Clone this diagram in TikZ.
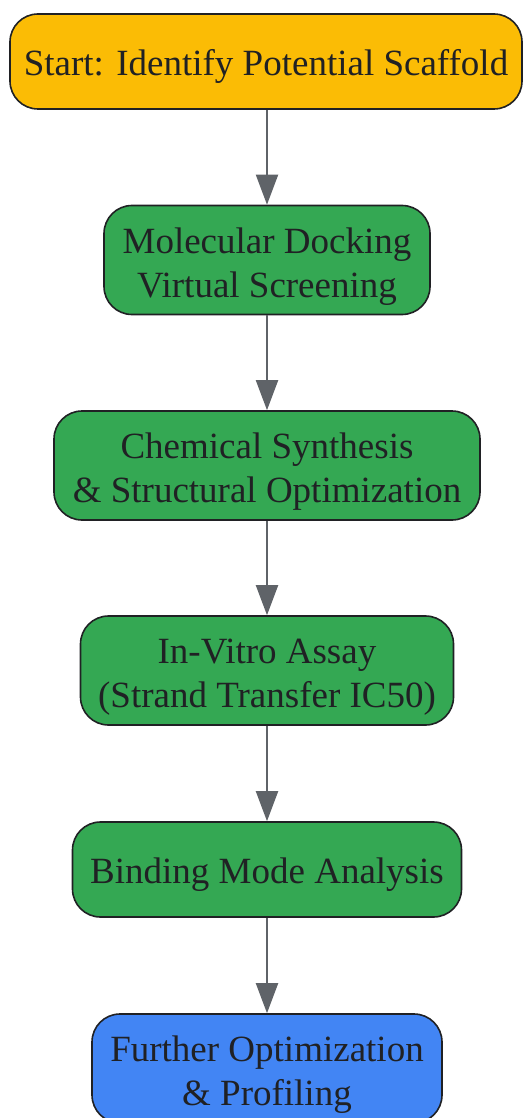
\documentclass[tikz,border=0pt]{standalone}
\usepackage{fontspec}
\setmainfont{Liberation Serif}
\usetikzlibrary{arrows.meta}
\definecolor{startyellow}{HTML}{FBBC05}
\definecolor{stepgreen}{HTML}{34A853}
\definecolor{endblue}{HTML}{4285F4}
\definecolor{textdark}{HTML}{202124}
\definecolor{arrowgray}{HTML}{5F6368}
\tikzset{
  stage/.style={draw=textdark, line width=1.6pt, rounded corners=28pt, align=center,
    text=textdark, font=\fontsize{37}{44}\selectfont, inner sep=0pt},
  oneline/.style={stage, minimum height=95pt, execute at begin node=\rule{0pt}{36pt}},
  twoline/.style={stage, minimum height=109pt},
  flow/.style={draw=arrowgray, line width=2pt, -{Triangle[width=22pt,length=30pt]}}
}
\newcommand{\topgap}{\rule{0pt}{38pt}}
\begin{document}
\begin{tikzpicture}[x=1pt,y=1pt]
		\useasboundingbox (0,0) rectangle (523,-1118);
		\node[oneline, fill=startyellow, minimum width=512pt] (start) at (266,-61.5) {Start: Identify Potential Scaffold};
		\node[twoline, fill=stepgreen, minimum width=326pt] (docking) at (267,-260) {\topgap Molecular Docking\\Virtual Screening};
		\node[twoline, fill=stepgreen, minimum width=426pt] (synthesis) at (267,-465.5) {\topgap Chemical Synthesis\\\& Structural Optimization};
		\node[twoline, fill=stepgreen, minimum width=373pt] (assay) at (267,-670.5) {\topgap In-Vitro Assay\\(Strand Transfer IC50)};
		\node[oneline, fill=stepgreen, minimum width=389pt] (binding) at (267,-869.5) {Binding Mode Analysis};
		\node[twoline, fill=endblue, minimum width=350pt] (further) at (267,-1068.5) {\topgap Further Optimization\\\& Profiling};
		\draw[flow] (start.south -| docking.north) -- (docking.north);
		\draw[flow] (docking) -- (synthesis);
		\draw[flow] (synthesis) -- (assay);
		\draw[flow] (assay) -- (binding);
		\draw[flow] (binding) -- (further);
\end{tikzpicture}
\end{document}
